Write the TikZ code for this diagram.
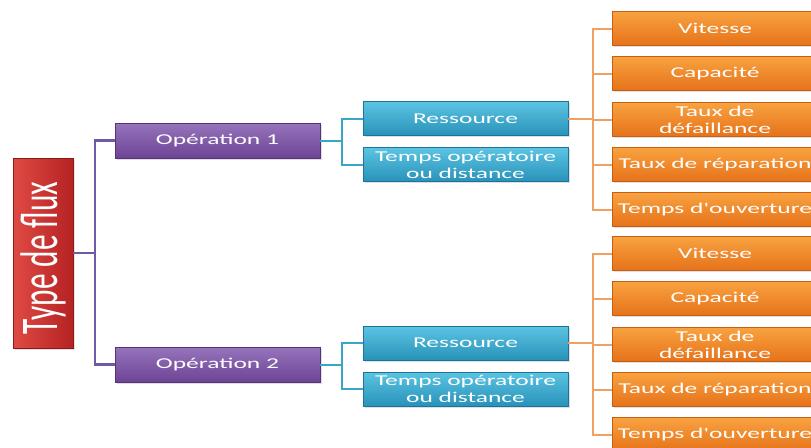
\documentclass[tikz,border=0pt]{standalone}
\usepackage{fontspec}
\setmainfont{Carlito}
\newfontfamily\boxfont[FakeStretch=1.7]{Carlito}
\newfontfamily\titlefont[FakeStretch=0.59]{Carlito}
\usetikzlibrary{shadows}
\definecolor{redL}{HTML}{E04A44}
\definecolor{redD}{HTML}{B42222}
\definecolor{redB}{HTML}{8E1818}
\definecolor{purL}{HTML}{9674BC}
\definecolor{purD}{HTML}{6C4494}
\definecolor{purB}{HTML}{55337A}
\definecolor{purLine}{HTML}{6E5AA6}
\definecolor{teaL}{HTML}{5CC4E2}
\definecolor{teaD}{HTML}{2892BA}
\definecolor{teaB}{HTML}{1C7498}
\definecolor{teaLine}{HTML}{3AA6C6}
\definecolor{oraL}{HTML}{F8A240}
\definecolor{oraD}{HTML}{E6721A}
\definecolor{oraB}{HTML}{C85E12}
\definecolor{oraLine}{HTML}{F0A060}
\tikzset{
  basebox/.style={rectangle, inner sep=0pt, text=white, align=center,
    line width=0.6pt, font=\boxfont\fontsize{15}{17}\selectfont,
    drop shadow={opacity=0.25, shadow xshift=1.5pt, shadow yshift=-1.5pt}},
  redbox/.style={basebox, minimum width=60pt, minimum height=190pt,
    draw=redB, left color=redL, right color=redD},
  purbox/.style={basebox, minimum width=205pt, minimum height=35pt,
    draw=purB, top color=purL, bottom color=purD},
  teabox/.style={basebox, minimum width=205pt, minimum height=34pt,
    draw=teaB, top color=teaL, bottom color=teaD},
  orabox/.style={basebox, minimum width=206pt, minimum height=34pt,
    draw=oraB, top color=oraL, bottom color=oraD},
  purconn/.style={draw=purLine, line width=2.4pt},
  teaconn/.style={draw=teaLine, line width=2pt},
  oraconn/.style={draw=oraLine, line width=2pt},
}
\begin{document}
\begin{tikzpicture}[x=1pt,y=-1pt]
\useasboundingbox (0,0) rectangle (811,447);
\clip (0,0) rectangle (811,447);

% root
\node[redbox] (type) at (43,253)
  {\rotatebox{90}{\titlefont\fontsize{53}{53}\selectfont Type de flux\hspace*{10pt}}};

% operations
\node[purbox] (op1) at (217.5,140.5) {Opération 1};
\node[purbox] (op2) at (217.5,364.5) {Opération 2};

% resources / times
\node[teabox] (res1) at (465.5,118.5) {Ressource};
\node[teabox] (tmp1) at (465.5,164.5) {Temps opératoire\\ou distance};
\node[teabox] (res2) at (465.5,343) {Ressource};
\node[teabox] (tmp2) at (465.5,389) {Temps opératoire\\ou distance};

% orange leaves, group 1
\node[orabox] (va) at (715,28.5)  {Vitesse};
\node[orabox] (ca) at (715,73.5)  {Capacité};
\node[orabox] (fa) at (715,119.5) {Taux de\\défaillance};
\node[orabox] (ra) at (715,164.5) {Taux de réparation};
\node[orabox] (oa) at (715,209.5) {Temps d'ouverture};
% orange leaves, group 2
\node[orabox] (vb) at (715,253.5) {Vitesse};
\node[orabox] (cb) at (715,298.5) {Capacité};
\node[orabox] (fb) at (715,344.5) {Taux de\\défaillance};
\node[orabox] (rb) at (715,389.5) {Taux de réparation};
\node[orabox] (ob) at (715,434.5) {Temps d'ouverture};

% junction coordinates
\coordinate (pj) at (95,253);
\coordinate (tj) at (342,0);
\coordinate (oj) at (593,0);

% purple connectors
\draw[purconn] (type.east) -- (type.east -| pj);
\draw[purconn] (op1.west) -- (op1.west -| pj) -- (op2.west -| pj) -- (op2.west);

% teal connectors
\draw[teaconn] (op1.east) -- (op1.east -| tj);
\draw[teaconn] (res1.west) -- (res1.west -| tj) -- (tmp1.west -| tj) -- (tmp1.west);
\draw[teaconn] (op2.east) -- (op2.east -| tj);
\draw[teaconn] (res2.west) -- (res2.west -| tj) -- (tmp2.west -| tj) -- (tmp2.west);

% orange connectors
\draw[oraconn] (res1.east) -- (res1.east -| oj);
\draw[oraconn] (va.west) -- (va.west -| oj) -- (oa.west -| oj) -- (oa.west);
\draw[oraconn] (ca.west) -- (ca.west -| oj);
\draw[oraconn] (fa.west) -- (fa.west -| oj);
\draw[oraconn] (ra.west) -- (ra.west -| oj);
\draw[oraconn] (res2.east) -- (res2.east -| oj);
\draw[oraconn] (vb.west) -- (vb.west -| oj) -- (ob.west -| oj) -- (ob.west);
\draw[oraconn] (cb.west) -- (cb.west -| oj);
\draw[oraconn] (fb.west) -- (fb.west -| oj);
\draw[oraconn] (rb.west) -- (rb.west -| oj);
\end{tikzpicture}
\end{document}
